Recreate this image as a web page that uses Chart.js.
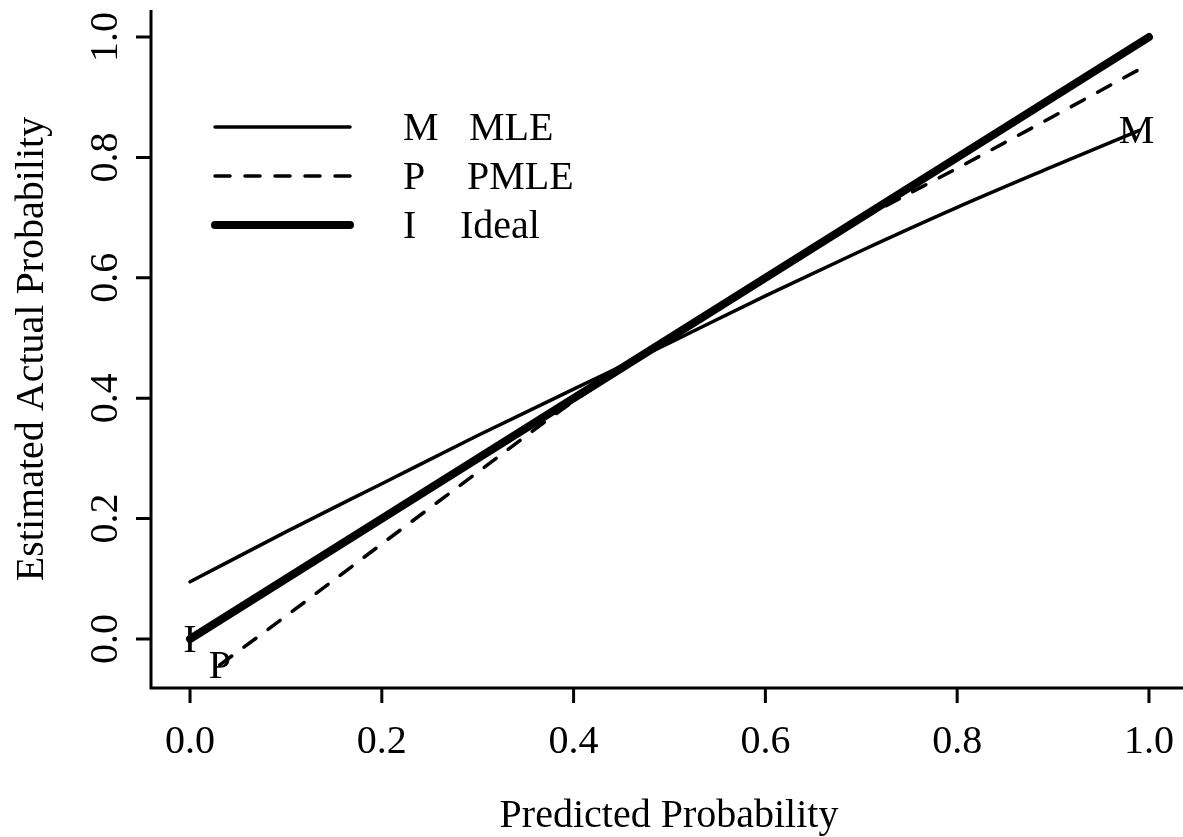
<!DOCTYPE html>
<html>
<head>
<meta charset="utf-8">
<script src="https://cdn.jsdelivr.net/npm/chart.js@4.4.1/dist/chart.umd.min.js"></script>
<style>
  html, body { margin: 0; padding: 0; background: #fff; }
  #wrap { width: 1183px; height: 837px; }
</style>
</head>
<body>
<div id="wrap"><canvas id="chart" width="1183" height="837"></canvas></div>
<script>
// values
const mleX  = [0, 0.1, 0.2, 0.3, 0.4, 0.5, 0.6, 0.7, 0.8, 0.9, 0.99];
const mleY  = [0.095, 0.178, 0.258, 0.338, 0.415, 0.492, 0.570, 0.645, 0.717, 0.785, 0.845];
const pmleX = [0.031, 0.1, 0.2, 0.3, 0.4, 0.5, 0.6, 0.7, 0.8, 0.9, 1.0];
const pmleY = [-0.043, 0.038, 0.158, 0.277, 0.395, 0.500, 0.600, 0.697, 0.782, 0.868, 0.955];
const idealX = [0, 1];
const idealY = [0, 1];

const seriesNames = ['MLE', 'PMLE', 'Ideal'];
const seriesCodes = ['M', 'P', 'I'];

const xTicks = [0, 0.2, 0.4, 0.6, 0.8, 1.0];
const yTicks = [0, 0.2, 0.4, 0.6, 0.8, 1.0];
const tickLabels = ['0.0', '0.2', '0.4', '0.6', '0.8', '1.0'];

const xTitle = 'Predicted Probability';
const yTitle = 'Estimated Actual Probability';

const FONT = '40px "Liberation Serif", "Times New Roman", serif';

function toPoints(xs, ys) {
  return xs.map((x, i) => ({ x: x, y: ys[i] }));
}

// code letter placed at one end of each curve
const codeAt = [
  { x: 0.987, y: 0.845 },  // M at the end of MLE
  { x: 0.031, y: -0.043 }, // P at the start of PMLE
  { x: 0, y: 0 }           // I at the start of Ideal
];

const lineStyles = [
  { width: 3.5, dash: [] },
  { width: 3.5, dash: [15, 15] },
  { width: 8, dash: [] }
];

const basePlot = {
  id: 'basePlot',
  afterDatasetsDraw(chart) {
    const { ctx, chartArea: a, scales: { x, y } } = chart;
    ctx.save();
    ctx.strokeStyle = '#000';
    ctx.fillStyle = '#000';
    ctx.lineWidth = 3;
    ctx.lineJoin = 'miter';
    ctx.lineCap = 'butt';

    // L shaped box
    ctx.beginPath();
    ctx.moveTo(a.left, a.top);
    ctx.lineTo(a.left, a.bottom);
    ctx.lineTo(a.right, a.bottom);
    ctx.stroke();

    // tick marks
    ctx.beginPath();
    xTicks.forEach(v => {
      const px = x.getPixelForValue(v);
      ctx.moveTo(px, a.bottom);
      ctx.lineTo(px, a.bottom + 15);
    });
    yTicks.forEach(v => {
      const py = y.getPixelForValue(v);
      ctx.moveTo(a.left - 15, py);
      ctx.lineTo(a.left, py);
    });
    ctx.stroke();

    ctx.font = FONT;
    ctx.textBaseline = 'alphabetic';
    ctx.textAlign = 'center';

    // tick labels
    xTicks.forEach((v, i) => {
      ctx.fillText(tickLabels[i], x.getPixelForValue(v), a.bottom + 65);
    });
    yTicks.forEach((v, i) => {
      ctx.save();
      ctx.translate(a.left - 34, y.getPixelForValue(v));
      ctx.rotate(-Math.PI / 2);
      ctx.fillText(tickLabels[i], 0, 0);
      ctx.restore();
    });

    // axis titles
    ctx.fillText(xTitle, (a.left + a.right + 4) / 2, a.bottom + 139);
    ctx.save();
    ctx.translate(43, (a.top + a.bottom) / 2);
    ctx.rotate(-Math.PI / 2);
    ctx.fillText(yTitle, 0, 0);
    ctx.restore();

    // code letters on the curves
    codeAt.forEach((p, i) => {
      ctx.fillText(seriesCodes[i], x.getPixelForValue(p.x), y.getPixelForValue(p.y) + 13);
    });

    // legend
    const rowY = [127, 176, 225];
    ctx.lineCap = 'round';
    seriesNames.forEach((name, i) => {
      ctx.lineWidth = lineStyles[i].width;
      ctx.setLineDash(lineStyles[i].dash);
      ctx.beginPath();
      ctx.moveTo(215, rowY[i]);
      ctx.lineTo(350, rowY[i]);
      ctx.stroke();
    });
    ctx.setLineDash([]);
    ctx.textAlign = 'left';
    const nameX = [469, 467, 460];
    seriesNames.forEach((name, i) => {
      ctx.fillText(seriesCodes[i], 403, rowY[i] + 13);
      ctx.fillText(name, nameX[i], rowY[i] + 13);
    });
    ctx.restore();
  }
};

const datasets = [
  { label: seriesNames[0], data: toPoints(mleX, mleY), order: 2 },
  { label: seriesNames[1], data: toPoints(pmleX, pmleY), order: 1 },
  { label: seriesNames[2], data: toPoints(idealX, idealY), order: 0 }
].map((d, i) => Object.assign(d, {
  showLine: true,
  borderColor: '#000',
  backgroundColor: '#000',
  borderWidth: lineStyles[i].width,
  borderDash: lineStyles[i].dash,
  borderCapStyle: 'round',
  borderJoinStyle: 'round',
  pointRadius: 0,
  cubicInterpolationMode: 'monotone',
  fill: false
}));

new Chart(document.getElementById('chart').getContext('2d'), {
  type: 'scatter',
  data: { datasets: datasets },
  options: {
    responsive: false,
    animation: false,
    layout: { padding: { left: 151, right: 0, top: 10, bottom: 149 } },
    plugins: { legend: { display: false }, tooltip: { enabled: false } },
    scales: {
      x: { type: 'linear', display: false, min: -0.0407, max: 1.0355 },
      y: { type: 'linear', display: false, min: -0.0814, max: 1.0449 }
    }
  },
  plugins: [basePlot]
});
</script>
</body>
</html>
